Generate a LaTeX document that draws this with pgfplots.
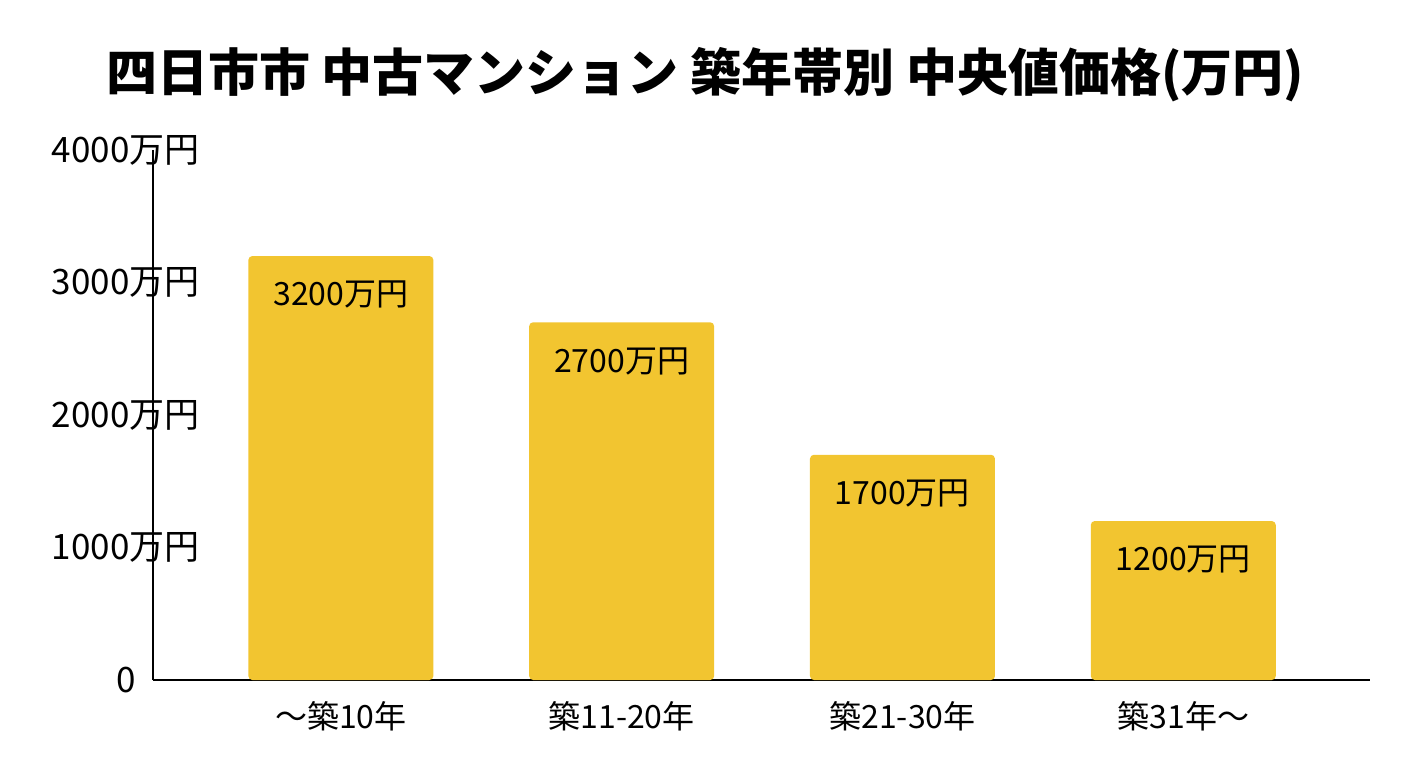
\documentclass[border=0pt]{standalone}
\usepackage{pgfplots}
\pgfplotsset{compat=1.18}
\usepackage{fontspec}
\setmainfont{Noto Sans CJK JP}
\definecolor{bar}{HTML}{F2C530}
\begin{document}
\begin{tikzpicture}
\begin{axis}[name=ax, at={(0,0)}, anchor=south west,
  scale only axis, width=608.5pt, height=265pt,
  xmin=-0.669, xmax=3.665, ymin=0, ymax=4000,
  axis x line=bottom, axis y line=left,
  axis line style={line width=1pt,-},
  ytick={0,1000,2000,3000,4000},
  yticklabels={0\rule{32pt}{0pt},1000万円,2000万円,3000万円,4000万円},
  xtick={0,1,2,3},
  xticklabels={～築10年,築11-20年,築21-30年,築31年～},
  tick style={draw=none},
  tick label style={font=\fontsize{16pt}{18pt}\selectfont},
  /pgf/number format/assume math mode=true,
  xticklabel style={yshift=-3pt},
  yticklabel style={xshift=29pt, font=\fontsize{17.5pt}{19pt}\selectfont},
  ybar, bar width=92.5pt, bar shift=0pt,
  nodes near coords={\pgfmathprintnumber[fixed,1000 sep={},assume math mode=true]{\pgfplotspointmeta}万円},
  every node near coord/.append style={anchor=north, yshift=-9pt, font=\fontsize{16pt}{18pt}\selectfont},
  clip=false]
\addplot[fill=bar, draw=none, rounded corners=2pt] coordinates {(0,3200) (1,2700) (2,1700) (3,1200)};
\end{axis}
\node at (276pt,302.5pt) {\fontsize{25.5pt}{30pt}\selectfont\bfseries 四日市市 中古マンション 築年帯別 中央値価格(万円)};
\pgfresetboundingbox
\path[use as bounding box] (-76.5pt,-44pt) rectangle (627.5pt,340pt);
\end{tikzpicture}
\end{document}
